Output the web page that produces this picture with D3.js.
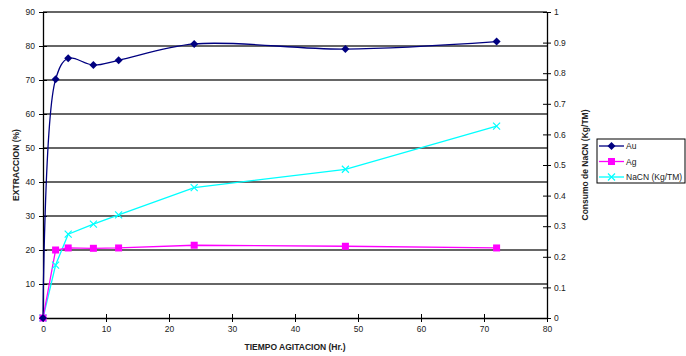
<!DOCTYPE html>
<html>
<head>
<meta charset="utf-8">
<script src="https://cdn.jsdelivr.net/npm/d3@7"></script>
<style>
  html, body { margin: 0; padding: 0; background: #fff; }
  svg { display: block; font-family: "Liberation Sans", Arial, sans-serif; }
</style>
</head>
<body>
<svg id="chart" width="686" height="356"></svg>
<script>
// Agitation time (hours) and measured results
const hours = [0, 2, 4, 8, 12, 24, 48, 72];
const auExtraction = [0, 70.2, 76.4, 74.4, 75.8, 80.6, 79.1, 81.3];
const agExtraction = [0, 20.0, 20.6, 20.5, 20.6, 21.4, 21.1, 20.6];
const nacnConsumption = [0, 0.173, 0.274, 0.307, 0.337, 0.426, 0.486, 0.627];

const xTicks = [0, 10, 20, 30, 40, 50, 60, 70, 80];
const leftTicks = [0, 10, 20, 30, 40, 50, 60, 70, 80, 90];
const rightTicks = [0, 0.1, 0.2, 0.3, 0.4, 0.5, 0.6, 0.7, 0.8, 0.9, 1];

const seriesNames = ["Au", "Ag", "NaCN (Kg/TM)"];

const svg = d3.select("#chart");
const plot = { left: 43, right: 547, top: 12, bottom: 318 };

const x = d3.scaleLinear().domain([0, 80]).range([plot.left, plot.right]);
const yL = d3.scaleLinear().domain([0, 90]).range([plot.bottom, plot.top]);
const yR = d3.scaleLinear().domain([0, 1]).range([plot.bottom, plot.top]);

const fontSize = "8.5px";
const textColor = "#222";

// horizontal gridlines
svg.append("g")
  .selectAll("line")
  .data(leftTicks.filter(d => d > 0))
  .join("line")
  .attr("x1", plot.left).attr("x2", plot.right)
  .attr("y1", d => yL(d)).attr("y2", d => yL(d))
  .attr("stroke", "#333").attr("stroke-width", 1.4);

// axes
function styleAxis(g) {
  g.select(".domain").attr("stroke", "#000").attr("stroke-width", 1.3);
  g.selectAll(".tick line").attr("stroke", "#000");
  g.selectAll(".tick text").attr("fill", textColor).style("font-size", fontSize)
    .style("font-family", "'Liberation Sans', Arial, sans-serif");
}

const xAxis = svg.append("g")
  .attr("transform", `translate(0,${plot.bottom})`)
  .call(d3.axisBottom(x).tickValues(xTicks).tickSize(4).tickSizeOuter(0).tickPadding(4).tickFormat(d3.format("d")));
xAxis.selectAll(".tick line").attr("y1", -4);
styleAxis(xAxis);

const leftAxis = svg.append("g")
  .attr("transform", `translate(${plot.left},0)`)
  .call(d3.axisLeft(yL).tickValues(leftTicks).tickSize(4).tickSizeOuter(0).tickPadding(4).tickFormat(d3.format("d")));
leftAxis.selectAll(".tick line").attr("x1", 4);
styleAxis(leftAxis);

const rightAxis = svg.append("g")
  .attr("transform", `translate(${plot.right},0)`)
  .call(d3.axisRight(yR).tickValues(rightTicks).tickSize(4).tickSizeOuter(0).tickPadding(3).tickFormat(d => d3.format("")(+d.toFixed(1))));
rightAxis.selectAll(".tick line").attr("x1", -4);
styleAxis(rightAxis);

// axis titles
svg.append("text")
  .attr("x", (plot.left + plot.right) / 2).attr("y", 350)
  .attr("text-anchor", "middle")
  .style("font-size", fontSize).style("font-weight", "bold").attr("fill", textColor)
  .text("TIEMPO AGITACION (Hr.)");

svg.append("text")
  .attr("transform", `translate(19,${(plot.top + plot.bottom) / 2}) rotate(-90)`)
  .attr("text-anchor", "middle")
  .style("font-size", fontSize).style("font-weight", "bold").attr("fill", textColor)
  .text("EXTRACCION (%)");

svg.append("text")
  .attr("transform", `translate(588,${(plot.top + plot.bottom) / 2}) rotate(-90)`)
  .attr("text-anchor", "middle")
  .style("font-size", fontSize).style("font-weight", "bold").attr("fill", textColor)
  .text("Consumo de NaCN (Kg/TM)");

// series
const auPts = hours.map((h, i) => [x(h), yL(auExtraction[i])]);
const agPts = hours.map((h, i) => [x(h), yL(agExtraction[i])]);
const naPts = hours.map((h, i) => [x(h), yR(nacnConsumption[i])]);

const smooth = d3.line().curve(d3.curveCatmullRom.alpha(0.5));
const straight = d3.line();

const colors = { au: "#000080", ag: "#ff00ff", na: "#00ffff" };

svg.append("path").attr("d", straight(naPts)).attr("fill", "none")
  .attr("stroke", colors.na).attr("stroke-width", 1.3);
svg.append("path").attr("d", straight(agPts)).attr("fill", "none")
  .attr("stroke", colors.ag).attr("stroke-width", 1.3);
svg.append("path").attr("d", smooth(auPts)).attr("fill", "none")
  .attr("stroke", colors.au).attr("stroke-width", 1.3);

function diamond(g, cx, cy, r) {
  g.append("path").attr("d", `M${cx},${cy - r}L${cx + r},${cy}L${cx},${cy + r}L${cx - r},${cy}Z`)
    .attr("fill", colors.au);
}
function square(g, cx, cy, s) {
  g.append("rect").attr("x", cx - s / 2).attr("y", cy - s / 2).attr("width", s).attr("height", s)
    .attr("fill", colors.ag);
}
function cross(g, cx, cy, r) {
  g.append("path").attr("d", `M${cx - r},${cy - r}L${cx + r},${cy + r}M${cx - r},${cy + r}L${cx + r},${cy - r}`)
    .attr("stroke", colors.na).attr("stroke-width", 1.2).attr("fill", "none");
}

const marks = svg.append("g");
naPts.forEach(p => cross(marks, p[0], p[1], 3.5));
agPts.forEach(p => square(marks, p[0], p[1], 7));
auPts.forEach(p => diamond(marks, p[0], p[1], 4));

// legend
const legend = svg.append("g").attr("transform", "translate(597,139)");
legend.append("rect").attr("x", 0).attr("y", 0).attr("width", 88).attr("height", 44)
  .attr("fill", "#fff").attr("stroke", "#000").attr("stroke-width", 1);
const legendColors = [colors.au, colors.ag, colors.na];
seriesNames.forEach((name, i) => {
  const cy = 7 + i * 15.5;
  legend.append("line").attr("x1", 2).attr("x2", 27).attr("y1", cy).attr("y2", cy)
    .attr("stroke", legendColors[i]).attr("stroke-width", 1.3);
  if (i === 0) diamond(legend, 14.5, cy, 4);
  if (i === 1) square(legend, 14.5, cy, 7);
  if (i === 2) cross(legend, 14.5, cy, 3.5);
  legend.append("text").attr("x", 29).attr("y", cy + 3)
    .style("font-size", fontSize).attr("fill", textColor).text(name);
});
</script>
</body>
</html>
